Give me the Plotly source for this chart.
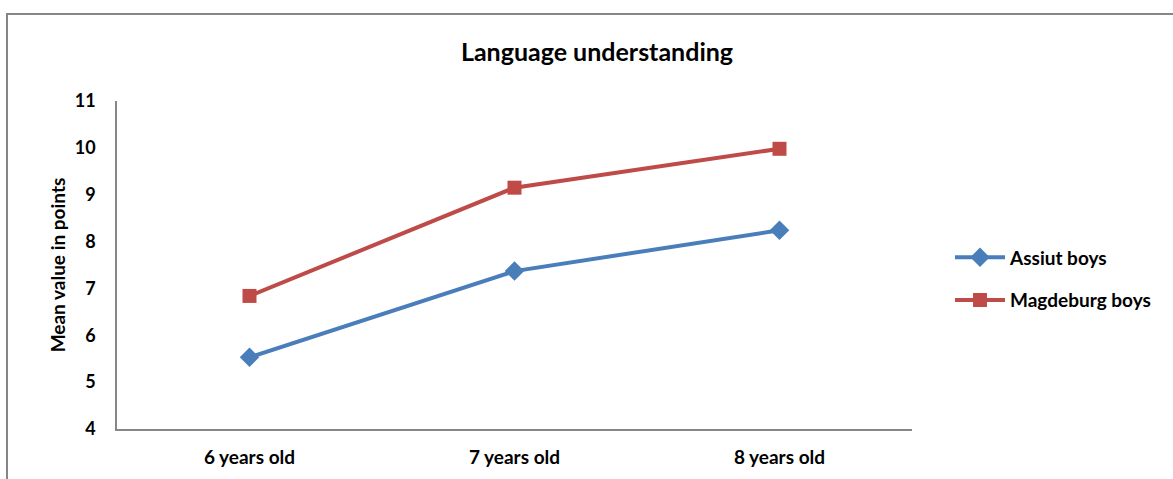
import plotly.graph_objects as go

categories = ["6 years old", "7 years old", "8 years old"]
assiut_boys = [5.53, 7.37, 8.24]
magdeburg_boys = [6.84, 9.15, 9.98]
y_ticks = [4, 5, 6, 7, 8, 9, 10, 11]

W, H = 1173, 479
L, R, T, B = 117, W - 912, 101, H - 429
pw, ph = W - L - R, H - T - B

FONT = "Lato"
AXIS_GRAY = "#868686"

fig = go.Figure()
fig.add_trace(go.Scatter(
    x=categories, y=assiut_boys, name="Assiut boys", mode="lines+markers",
    legendgroup="assiut",
    line=dict(color="#4A7EBB", width=4),
    marker=dict(symbol="diamond", size=15, color="#4A7EBB"),
))
fig.add_trace(go.Scatter(
    x=categories, y=magdeburg_boys, name="Magdeburg boys", mode="lines+markers",
    legendgroup="magdeburg",
    line=dict(color="#BE4B48", width=4),
    marker=dict(symbol="square", size=14, color="#BE4B48"),
))

def px_x(x):
    return (x - L) / pw

def px_y(y):
    return (H - B - y) / ph

# outer chart frame (extends past the page on the right and bottom)
fig.add_shape(type="rect", xref="paper", yref="paper",
              x0=px_x(7), x1=px_x(W + 20), y0=px_y(H + 20), y1=px_y(14),
              line=dict(color=AXIS_GRAY, width=2), layer="below")

bold = dict(family=FONT, weight="bold", color="black")

fig.update_layout(
    width=W, height=H,
    margin=dict(l=L, r=R, t=T, b=B),
    paper_bgcolor="white", plot_bgcolor="white",
    font=dict(family=FONT, color="black"),
    title=dict(text="Language understanding", x=597 / W, xanchor="center",
               y=1 - 52 / H, yanchor="middle", font=dict(size=25, **bold)),
    xaxis=dict(range=[-0.5, 2.5], showline=True, linecolor=AXIS_GRAY, linewidth=1.5,
               showgrid=False, zeroline=False, ticks="",
               tickfont=dict(size=19, **bold), ticklabelstandoff=10),
    yaxis=dict(range=[4, 11], tickvals=y_ticks, showline=True, linecolor=AXIS_GRAY,
               linewidth=1.5, showgrid=False, zeroline=False, ticks="",
               tickfont=dict(size=18, **bold), ticklabelstandoff=16,
               title=dict(text="Mean value in points", font=dict(size=19, **bold),
                          standoff=4)),
    legend=dict(x=px_x(950), xanchor="left", y=px_y(279), yanchor="middle",
                font=dict(size=19, **bold), itemwidth=50, tracegroupgap=15,
                bgcolor="rgba(0,0,0,0)"),
    showlegend=True,
)

fig.write_html("out.html")
